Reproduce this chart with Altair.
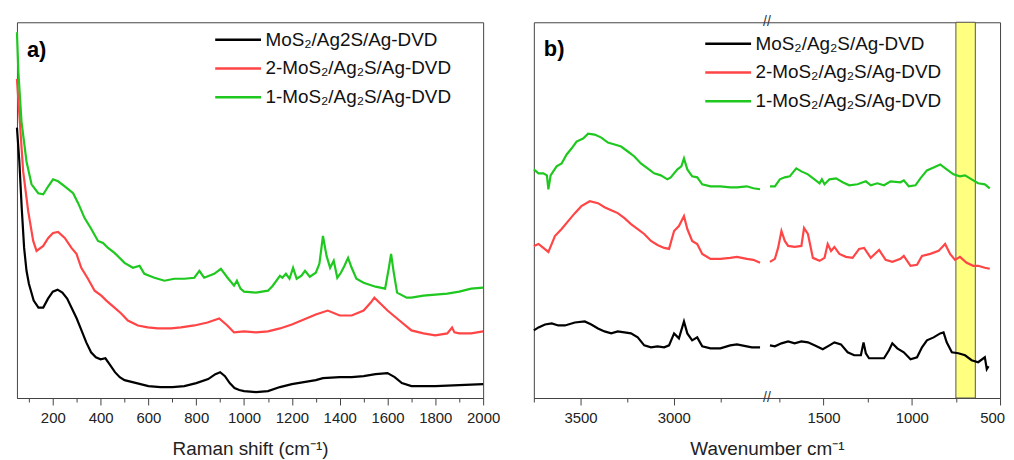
import altair as alt
import pandas as pd

# ---------------- Panel a: Raman spectra (arbitrary intensity units) ----------------
a_black_w = [50, 60, 70, 80, 90, 100, 120, 140, 160, 180, 200, 220, 240, 260, 280, 300, 320, 340, 360, 380,
             400, 420, 440, 460, 480, 500, 550, 600, 650, 700, 750, 800, 850, 880, 900, 920, 940, 960, 980, 1000,
             1050, 1100, 1150, 1200, 1250, 1300, 1330, 1400, 1450, 1500, 1550, 1600, 1630, 1660, 1700, 1800, 1900, 2000]
a_black_y = [272, 238, 191, 151, 128, 115, 98, 91, 91, 100, 107, 109, 106, 100, 90, 80, 68, 56, 46, 41,
             39, 40, 33, 26, 21, 18, 15, 12, 11, 11, 12, 15, 19, 24, 26, 22, 15, 10, 8, 7,
             6, 7, 11, 14, 16, 18, 20, 21, 21, 22, 24, 25, 21, 15, 12, 12, 13, 14]

a_red_w = [50, 62, 76, 97, 118, 132, 160, 181, 201, 222, 250, 278, 299, 319, 347, 375, 403, 424, 458, 486,
           514, 556, 597, 639, 694, 736, 792, 847, 896, 930, 958, 1000, 1050, 1100, 1150, 1200, 1250, 1300, 1350,
           1400, 1450, 1500, 1530, 1545, 1570, 1600, 1650, 1700, 1750, 1800, 1850, 1870, 1880, 1900, 1950, 2000]
a_red_y = [321, 278, 228, 188, 158, 148, 153, 161, 166, 167, 161, 151, 145, 131, 120, 108, 103, 98, 91, 85,
           78, 73, 71, 70, 70, 71, 73, 76, 80, 73, 66, 67, 66, 67, 70, 74, 79, 84, 88,
           83, 83, 88, 96, 101, 95, 88, 78, 68, 65, 63, 65, 71, 66, 65, 65, 67]

a_green_w = [50, 56, 69, 90, 111, 139, 160, 181, 201, 222, 250, 285, 306, 333, 361, 389, 410, 431, 458, 500,
             535, 563, 583, 625, 667, 708, 750, 792, 813, 833, 875, 903, 931, 958, 970, 985, 1000, 1050, 1100,
             1120, 1150, 1160, 1175, 1190, 1205, 1220, 1240, 1255, 1275, 1300, 1315, 1330, 1345, 1360, 1375,
             1390, 1405, 1420, 1435, 1450, 1470, 1500, 1550, 1590, 1605, 1615, 1625, 1640, 1680, 1700, 1750,
             1800, 1850, 1900, 1950, 2000]
a_green_y = [368, 328, 278, 238, 215, 206, 205, 213, 220, 218, 213, 206, 196, 181, 170, 158, 156, 151, 146, 136,
             131, 133, 125, 121, 118, 120, 120, 121, 128, 121, 125, 130, 121, 113, 118, 110, 107, 106, 108,
             113, 123, 121, 125, 120, 131, 120, 123, 128, 122, 126, 135, 163, 143, 131, 138,
             121, 126, 133, 141, 131, 120, 116, 112, 110, 130, 145, 128, 106, 101, 101, 103,
             104, 105, 107, 110, 111]

a_names = ["MoS₂/Ag2S/Ag-DVD", "2-MoS₂/Ag₂S/Ag-DVD", "1-MoS₂/Ag₂S/Ag-DVD"]

# ---------------- Panel b: FTIR spectra (broken wavenumber axis) ----------------
b_black_left_w = [3750, 3725, 3690, 3654, 3619, 3583, 3530, 3477, 3442, 3406, 3371, 3335, 3300, 3264, 3229,
                  3193, 3158, 3122, 3087, 3051, 3025, 2998, 2972, 2945, 2927, 2901, 2874, 2847, 2803, 2750,
                  2697, 2661, 2608, 2581, 2537]
b_black_left_y = [68, 71, 74, 75, 73, 73, 76, 77, 74, 70, 67, 65, 67, 66, 65,
                  61, 53, 51, 52, 51, 53, 65, 60, 77, 65, 58, 61, 52, 50, 50,
                  53, 54, 52, 51, 51]
b_black_right_w = [1803, 1775, 1738, 1700, 1663, 1625, 1588, 1551, 1504, 1466, 1438, 1401, 1363, 1326, 1288,
                   1273, 1260, 1242, 1195, 1157, 1129, 1110, 1082, 1045, 1007, 970, 942, 914, 876, 839,
                   820, 802, 773, 736, 698, 661, 624, 586, 575, 565]
b_black_right_y = [53, 52, 55, 57, 55, 57, 56, 53, 49, 53, 56, 54, 46, 43, 43,
                   56, 45, 40, 40, 40, 48, 55, 50, 46, 39, 41, 51, 58, 61, 65,
                   66, 56, 46, 45, 43, 38, 36, 41, 29, 32]

b_red_left_w = [3750, 3725, 3699, 3672, 3654, 3637, 3601, 3566, 3530, 3495, 3450, 3406, 3371, 3335, 3300,
                3264, 3229, 3193, 3158, 3122, 3087, 3051, 3025, 2998, 2972, 2945, 2927, 2901, 2874, 2847,
                2803, 2750, 2697, 2661, 2608, 2573, 2537]
b_red_left_y = [153, 155, 151, 147, 155, 163, 170, 178, 186, 193, 198, 196, 192, 189, 186,
                181, 175, 170, 165, 158, 154, 151, 150, 168, 173, 183, 170, 158, 155, 145,
                140, 140, 141, 142, 140, 139, 136]
b_red_right_w = [1803, 1775, 1757, 1738, 1719, 1700, 1663, 1625, 1610, 1588, 1560, 1522, 1494, 1476, 1457,
                 1438, 1410, 1373, 1335, 1298, 1270, 1232, 1185, 1148, 1110, 1064, 1045, 1007, 970, 942,
                 895, 848, 811, 783, 755, 727, 689, 652, 624, 586, 558]
b_red_right_y = [137, 140, 151, 168, 158, 153, 152, 153, 171, 165, 141, 138, 141, 155, 148,
                 152, 145, 142, 141, 150, 151, 141, 149, 139, 137, 140, 143, 133, 134, 143,
                 145, 148, 155, 145, 139, 142, 136, 133, 133, 131, 130]

b_green_left_w = [3750, 3725, 3699, 3680, 3672, 3660, 3628, 3601, 3574, 3548, 3521, 3486, 3459, 3424, 3388,
                  3353, 3317, 3282, 3246, 3211, 3176, 3140, 3105, 3069, 3034, 3016, 2980, 2959, 2945, 2927,
                  2901, 2874, 2847, 2803, 2750, 2697, 2661, 2608, 2573, 2537]
b_green_left_y = [230, 226, 226, 224, 210, 224, 233, 236, 245, 251, 258, 261, 266, 265, 262,
                  257, 255, 253, 248, 243, 236, 231, 226, 224, 220, 222, 230, 233, 241, 230,
                  223, 222, 215, 213, 213, 212, 212, 213, 211, 210]
b_green_right_w = [1803, 1775, 1747, 1719, 1691, 1654, 1625, 1588, 1551, 1522, 1509, 1494, 1466, 1429, 1391,
                   1354, 1307, 1260, 1232, 1195, 1157, 1120, 1064, 1045, 1017, 979, 951, 914, 876, 839,
                   802, 764, 727, 698, 661, 624, 586, 558]
b_green_right_y = [213, 213, 220, 222, 223, 231, 228, 225, 220, 216, 220, 215, 220, 221, 217,
                   214, 215, 218, 214, 216, 214, 218, 217, 219, 213, 214, 221, 229, 232, 235,
                   230, 225, 223, 224, 220, 216, 215, 211]

b_names = ["MoS₂/Ag₂S/Ag-DVD", "2-MoS₂/Ag₂S/Ag-DVD", "1-MoS₂/Ag₂S/Ag-DVD"]

band_w = [750, 640]                       # highlighted region (cm-1)
break_w = [2500, 1820]                    # axis break: left segment ends, right segment starts
a_ticks = list(range(100, 2001, 100))
b_ticks = [3750, 3500, 3250, 3000, 2750, 1750, 1500, 1250, 1000, 750, 500]
panel_labels = ["a)", "b)"]

colors = ["#000000", "#ff4545", "#1ec81e"]
FONT = "Liberation Sans"
W, H = 469, 378

# ---------------- build tables ----------------
rows = []
for name, ws, ys in zip(a_names, [a_black_w, a_red_w, a_green_w], [a_black_y, a_red_y, a_green_y]):
    for w, y in zip(ws, ys):
        rows.append({"w": w, "y": y, "series": name})
df_a = pd.DataFrame(rows)

rows = []
for name, parts in zip(b_names, [
        [(b_black_left_w, b_black_left_y), (b_black_right_w, b_black_right_y)],
        [(b_red_left_w, b_red_left_y), (b_red_right_w, b_red_right_y)],
        [(b_green_left_w, b_green_left_y), (b_green_right_w, b_green_right_y)]]):
    for seg, (ws, ys) in zip(["left", "right"], parts):
        for w, y in zip(ws, ys):
            rows.append({"w": w, "y": y, "series": name, "seg": seg})
df_b = pd.DataFrame(rows)

# broken-axis transform: wavenumber -> axis position
K1, K2 = 0.188, 0.178
P_BREAK = (3750 - break_w[0]) * K1


def pos_py(w):
    return (3750 - w) * K1 if w > 2000 else P_BREAK + (break_w[1] - w) * K2


POS_EXPR = f"datum.w > 2000 ? (3750 - datum.w) * {K1} : {P_BREAK} + ({break_w[1]} - datum.w) * {K2}"
INV = (f"(datum.value <= {P_BREAK + 0.5} ? round(3750 - datum.value / {K1}) : "
       f"round({break_w[1]} - (datum.value - {P_BREAK}) / {K2}))")
P_MAX = pos_py(500)

legend_common = dict(
    orient="none", title=None, symbolType="M-2.5,0H2.5", symbolSize=340, symbolStrokeWidth=2.5,
    labelFontSize=19, labelFont=FONT, labelColor="#111", labelLimit=400, rowPadding=8, labelOffset=17,
    padding=0,
)

y_enc = alt.Y("y:Q", scale=alt.Scale(domain=[0, H], nice=False), axis=None)

# ---------------- panel a ----------------
xa = alt.X(
    "w:Q", scale=alt.Scale(domain=[50, 2000], nice=False),
    axis=alt.Axis(
        values=a_ticks, grid=False, labelFlush=False, labelOverlap=False,
        labelExpr="datum.value % 200 === 0 ? format(datum.value, 'd') : ''",
        tickSize={"condition": {"test": "datum.value % 200 === 0", "value": 7}, "value": 4},
        title="Raman shift (cm⁻¹)",
    ),
)
lines_a = alt.Chart(df_a).mark_line(strokeWidth=2.2).encode(
    x=xa, y=y_enc,
    color=alt.Color("series:N", scale=alt.Scale(domain=a_names, range=colors), sort=a_names,
                    legend=alt.Legend(legendX=212, legendY=7, **legend_common)),
)
label_a = alt.Chart(pd.DataFrame({"t": [panel_labels[0]]})).mark_text(
    fontSize=22, fontWeight="bold", font=FONT, align="left", baseline="middle", color="#000"
).encode(x=alt.value(10), y=alt.value(28), text="t:N")
panel_a = alt.layer(lines_a, label_a).properties(width=W, height=H)

# ---------------- panel b ----------------
xb_axis = alt.Axis(
    values=[pos_py(w) for w in b_ticks], grid=False, labelFlush=False, labelOverlap=False,
    labelExpr=f"{INV} % 500 === 0 ? format({INV}, 'd') : ''",
    tickSize={"condition": {"test": f"{INV} % 500 === 0", "value": 7}, "value": 4},
    labelOffset={"condition": {"test": f"{INV} === 500", "value": -8}, "value": 0},
    title="Wavenumber cm⁻¹",
)
xb = alt.X("pos:Q", scale=alt.Scale(domain=[0, P_MAX], nice=False), axis=xb_axis)

band = alt.Chart(pd.DataFrame({"w": [band_w[0]], "w2": [band_w[1]]})).transform_calculate(
    pos=POS_EXPR,
    pos2=f"{P_BREAK} + ({break_w[1]} - datum.w2) * {K2}",
).mark_rect(fill="#ffff80", stroke="#555555", strokeWidth=1).encode(
    x=xb, x2="pos2:Q", y=alt.value(0), y2=alt.value(H)
)
lines_b = alt.Chart(df_b).transform_calculate(pos=POS_EXPR).mark_line(strokeWidth=2.2).encode(
    x=xb, y=y_enc, detail="seg:N",
    color=alt.Color("series:N", scale=alt.Scale(domain=b_names, range=colors), sort=b_names,
                    legend=alt.Legend(legendX=185, legendY=11, **legend_common)),
)
break_df = pd.DataFrame({"w": [break_w[0]], "s": ["//"]})
break_top = alt.Chart(break_df).transform_calculate(pos=POS_EXPR).mark_text(
    fontSize=14, font=FONT, color="#333", align="center", baseline="middle"
).encode(x=xb, y=alt.value(0), text="s:N")
break_bot = alt.Chart(break_df).transform_calculate(pos=POS_EXPR).mark_text(
    fontSize=14, font=FONT, color="#333", align="center", baseline="middle"
).encode(x=xb, y=alt.value(H), text="s:N")
label_b = alt.Chart(pd.DataFrame({"t": [panel_labels[1]]})).mark_text(
    fontSize=22, fontWeight="bold", font=FONT, align="left", baseline="middle", color="#000"
).encode(x=alt.value(10), y=alt.value(27), text="t:N")
panel_b = alt.layer(band, lines_b, break_top, break_bot, label_b).properties(width=W, height=H)

chart = alt.hconcat(panel_a, panel_b, spacing=51, bounds="flush").resolve_scale(
    color="independent", x="independent", y="independent"
).resolve_legend(color="independent").properties(
    padding={"left": 4, "top": 5, "right": 0, "bottom": 0}
).configure_view(stroke="#444444", strokeWidth=1).configure_axis(
    labelFont=FONT, titleFont=FONT, labelFontSize=15, titleFontSize=19, titleFontWeight="normal",
    labelColor="#222", titleColor="#222", domainColor="#444", tickColor="#444",
    labelPadding=6, titlePadding=14,
)

chart.save("out.html", embed_options={"renderer": "svg", "actions": False})
